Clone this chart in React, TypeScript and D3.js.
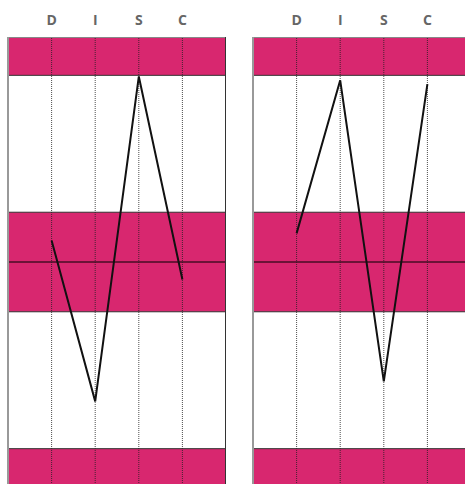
import React, { useEffect, useRef } from "react";
import * as d3 from "d3";

// DISC factors and the two profiles
const factors = ["D", "I", "S", "C"];
const panels = ["adapted", "natural"];
const adaptedValues = [0.86, -5.6, 7.45, -0.7];
const naturalValues = [1.15, 7.3, -4.8, 7.15];
const profileValues = [adaptedValues, naturalValues];

// y domain and shaded zones
const yDomain = [9, -9];
const pinkZones = [
  [7.5, 9],
  [-2, 2],
  [-9, -7.5],
];
const zoneEdges = [7.5, 2, -2, -7.5];

const App = () => {
  const svgRef = useRef<SVGSVGElement>(null);
  const width = 465, height = 484;
  const top = 38, bottom = 486;
  const pink = "#d8276f";

  useEffect(() => {
    const svg = d3.select(svgRef.current);
    svg.selectAll("*").remove();

    const panelX = d3.scaleBand().domain(panels).range([8, 471]).paddingInner(27 / 245);
    const pw = panelX.bandwidth();
    const y = d3.scaleLinear().domain(yDomain).range([top, bottom]);
    const x = d3.scalePoint().domain(["", ...factors, " "]).range([0, pw]);

    panels.forEach((p, pi) => {
      const g = svg.append("g").attr("transform", `translate(${panelX(p)},0)`);

      // white background + pink zones
      g.append("rect").attr("x", 0).attr("y", top).attr("width", pw).attr("height", bottom - top).attr("fill", "#fff");
      g.selectAll("rect.zone")
        .data(pinkZones)
        .join("rect")
        .attr("class", "zone")
        .attr("x", 0)
        .attr("width", pw)
        .attr("y", d => y(d[1]))
        .attr("height", d => y(d[0]) - y(d[1]))
        .attr("fill", pink);

      // zone borders
      g.selectAll("line.edge")
        .data(zoneEdges)
        .join("line")
        .attr("class", "edge")
        .attr("x1", 0).attr("x2", pw)
        .attr("y1", d => y(d)).attr("y2", d => y(d))
        .attr("stroke", "#333")
        .attr("stroke-width", 1);

      // center line
      g.append("line")
        .attr("x1", 0).attr("x2", pw)
        .attr("y1", y(0)).attr("y2", y(0))
        .attr("stroke", "#000")
        .attr("stroke-opacity", 0.5)
        .attr("stroke-width", 2);

      // dotted factor lines
      g.selectAll("line.col")
        .data(factors)
        .join("line")
        .attr("class", "col")
        .attr("x1", d => x(d)!).attr("x2", d => x(d)!)
        .attr("y1", top).attr("y2", bottom)
        .attr("stroke", "#222")
        .attr("stroke-opacity", 0.8)
        .attr("stroke-dasharray", "1,1");

      // factor labels
      g.selectAll("text.lab")
        .data(factors)
        .join("text")
        .attr("class", "lab")
        .attr("x", d => x(d)!)
        .attr("y", 25)
        .attr("text-anchor", "middle")
        .style("font-family", "'Open Sans', sans-serif")
        .style("font-weight", "bold")
        .style("font-size", "14px")
        .attr("fill", "#666")
        .text(d => d);

      // panel frame
      g.append("line").attr("x1", 0).attr("x2", pw).attr("y1", top - 0.5).attr("y2", top - 0.5)
        .attr("stroke", "#888").attr("stroke-width", 1);
      g.append("line").attr("x1", 0).attr("x2", 0).attr("y1", top - 1).attr("y2", bottom)
        .attr("stroke", "#999").attr("stroke-width", 2);
      g.append("line").attr("x1", pw - 0.5).attr("x2", pw - 0.5).attr("y1", top - 1).attr("y2", bottom)
        .attr("stroke", "#333").attr("stroke-width", 1);

      // profile line
      const line = d3.line<number>()
        .x((_, i) => x(factors[i])!)
        .y(d => y(d));
      g.append("path")
        .datum(profileValues[pi])
        .attr("fill", "none")
        .attr("stroke", "#111")
        .attr("stroke-width", 2)
        .attr("d", line);
    });
  }, []);

  return (
    <svg
      ref={svgRef}
      width={width}
      height={height}
      style={{ position: "absolute", left: 0, top: 0, background: "#fff" }}
    />
  );
};

export default App;
